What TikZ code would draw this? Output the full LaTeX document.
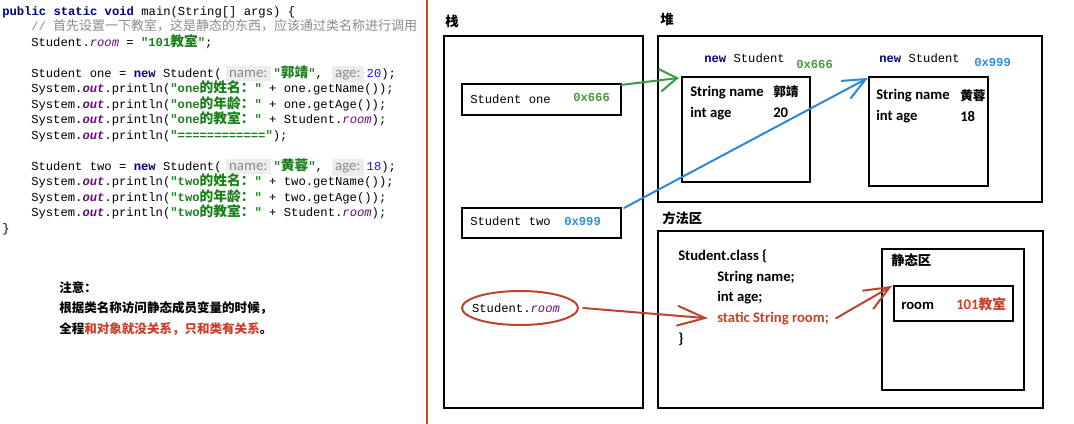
\documentclass[tikz,border=0pt]{standalone}
\usepackage{fontspec}
\setmainfont{Carlito}
\setmonofont{Liberation Mono}
\newfontfamily\cjk{Noto Sans CJK SC}
\usetikzlibrary{arrows.meta,fit,calc,shapes.geometric}
\definecolor{kwc}{HTML}{000080}
\definecolor{strc}{HTML}{1A801A}
\definecolor{numc}{HTML}{1A1AE6}
\definecolor{fldc}{HTML}{660E7A}
\definecolor{cmtc}{HTML}{8C8C8C}
\definecolor{hintfg}{HTML}{8A8A8A}
\definecolor{hintbg}{HTML}{EDEDED}
\definecolor{divred}{HTML}{C8442C}
\definecolor{arrgreen}{HTML}{3A9A48}
\definecolor{arrblue}{HTML}{2B88DA}
\definecolor{arrred}{HTML}{BF4430}
\definecolor{addrgreen}{HTML}{4A9A3A}
\definecolor{addrblue}{HTML}{2F8FE0}
\definecolor{notered}{HTML}{C8402A}
\newcommand\cj[1]{{\cjk\fontsize{10.3}{11}\selectfont #1}}
\newcommand\cjc[1]{{\cjk\fontsize{9.75}{11}\selectfont #1}}
\newcommand\jkw[1]{\textcolor{kwc}{\bfseries #1}}
\newcommand\jstr[1]{\textcolor{strc}{\bfseries #1}}
\newcommand\jnum[1]{\textcolor{numc}{#1}}
\newcommand\jout{\textcolor{fldc}{\bfseries\itshape out}}
\newcommand\jroom{\textcolor{fldc}{\itshape room}}
\newcommand\jhint[1]{{\setlength\fboxsep{2.6pt}\colorbox{hintbg}{\rmfamily\fontsize{11.2}{11}\selectfont\textcolor{hintfg}{#1}}}}
\begin{document}
\begin{tikzpicture}[x=0.75pt,y=-0.75pt,
  code/.style={anchor=mid west,inner sep=0,font=\ttfamily\fontsize{9.15}{11}\selectfont},
  note/.style={anchor=mid west,inner sep=0,font=\cjk\bfseries\fontsize{9.4}{11}\selectfont},
  box/.style={draw,line width=1.6pt,inner sep=0},
  lbl/.style={anchor=mid west,inner sep=0,font=\cjk\bfseries\fontsize{10}{11}\selectfont},
  txt/.style={anchor=mid west,inner sep=0,font=\bfseries\fontsize{11}{12}\selectfont},
  mono/.style={anchor=mid west,inner sep=0,font=\ttfamily\fontsize{9.15}{11}\selectfont},
  conn/.style={line width=1.5pt,line cap=round,line join=round}]
\fill[white] (0,0) rectangle (1074,424);
\useasboundingbox (0,0) rectangle (1074,424);

% ---- code ----
\node[code] (c1) at (2,12) {\jkw{public static void} main(String[] args) \{};
\node[code] (c2) at (31,27.5) {\textcolor{cmtc}{// \cjc{首先设置一下教室，这是静态的东西，应该通过类名称进行调用}}};
\node[code] (c3) at (31,43) {Student.\jroom{} = \jstr{"101\cj{教室}"};};
\node[code] (c4) at (31,74) {Student one = \jkw{new} Student(\hspace{3pt}\jhint{name:}\hspace{2pt}\jstr{"\cj{郭靖}"}, \hspace{1pt}\jhint{age:}\hspace{2pt}\jnum{20});};
\node[code] (c5) at (31,89.5) {System.\jout.println(\jstr{"one\cj{的姓名：}"} + one.getName());};
\node[code] (c6) at (31,105) {System.\jout.println(\jstr{"one\cj{的年龄：}"} + one.getAge());};
\node[code] (c7) at (31,120.5) {System.\jout.println(\jstr{"one\cj{的教室：}"} + Student.\jroom);};
\node[code] (c8) at (31,136) {System.\jout.println(\jstr{"============"});};
\node[code] (c9) at (31,167) {Student two = \jkw{new} Student(\hspace{3pt}\jhint{name:}\hspace{2pt}\jstr{"\cj{黄蓉}"}, \hspace{1pt}\jhint{age:}\hspace{2pt}\jnum{18});};
\node[code] (c10) at (31,182.5) {System.\jout.println(\jstr{"two\cj{的姓名：}"} + two.getName());};
\node[code] (c11) at (31,198) {System.\jout.println(\jstr{"two\cj{的年龄：}"} + two.getAge());};
\node[code] (c12) at (31,213.5) {System.\jout.println(\jstr{"two\cj{的教室：}"} + Student.\jroom);};
\node[code] (c13) at (2,229) {\}};

% ---- notes ----
\node[note] (n1) at (59,289) {注意：};
\node[note] (n2) at (59,309) {根据类名称访问静态成员变量的时候，};
\node[note] (n3) at (59,330) {全程\textcolor{notered}{和对象就没关系，只和类有关系}。};

% ---- divider ----
\draw[divred,line width=1.8pt] (427,0) -- (427,424);

% ---- stack ----
\node[lbl] (lstack) at (445,23) {栈};
\node[box,fit={(444,36) (643,408)}] (stack) {};
\node[box,fit={(462,84) (621,115)}] (one) {};
\node[mono] (onet) at (470,100) {Student one};
\node[mono,font=\ttfamily\bfseries\fontsize{9.15}{11}\selectfont,text=addrgreen] (onea) at (573,98) {0x666};
\node[box,fit={(462,208) (621,238)}] (two) {};
\node[mono] (twot) at (470,222) {Student two};
\node[mono,font=\ttfamily\bfseries\fontsize{9.15}{11}\selectfont,text=addrblue] (twoa) at (564,222) {0x999};
\node[draw=arrred,line width=1.5pt,ellipse,minimum width=87pt,minimum height=25.5pt,inner sep=0,
      font=\ttfamily\fontsize{9.15}{11}\selectfont] (ell) at (520,308) {\hspace{-6pt}Student.\jroom};

% ---- heap ----
\node[lbl] (lheap) at (660,21) {堆};
\node[box,fit={(658,36) (1042,202)}] (heap) {};
\node[mono] (new1) at (704,59) {\jkw{new} Student};
\node[mono,font=\ttfamily\bfseries\fontsize{9.15}{11}\selectfont,text=addrgreen] (addr1) at (796,65) {0x666};
\node[box,fit={(682,77) (810,182)}] (obj1) {};
\node[txt] (o1n) at (690,93) {String name};
\node[lbl,font=\cjk\bfseries\fontsize{9.5}{11}\selectfont] (o1nv) at (773,93) {郭靖};
\node[txt] (o1a) at (690,114) {int age};
\node[txt] (o1av) at (773,114) {20};
\node[mono] (new2) at (879,59) {\jkw{new} Student};
\node[mono,font=\ttfamily\bfseries\fontsize{9.15}{11}\selectfont,text=addrblue] (addr2) at (974,63) {0x999};
\node[box,fit={(869,77) (988,186)}] (obj2) {};
\node[txt] (o2n) at (876,96) {String name};
\node[lbl,font=\cjk\bfseries\fontsize{9.5}{11}\selectfont] (o2nv) at (960,97) {黄蓉};
\node[txt] (o2a) at (876,117) {int age};
\node[txt] (o2av) at (960,118) {18};

% ---- method area ----
\node[lbl] (lmeth) at (662,220) {方法区};
\node[box,fit={(658,231) (1043,408)}] (meth) {};
\node[txt] (cls) at (678,257) {Student.class \{};
\node[txt] (f1) at (717,278) {String name;};
\node[txt] (f2) at (717,298) {int age;};
\node[txt,text=notered] (sroom) at (717,319) {static String room;};
\node[txt] (clse) at (678,340) {\}};
\node[box,fit={(882,249) (1024,390)}] (stat) {};
\node[lbl] (lstat) at (891,262) {静态区};
\node[box,fit={(894,286) (1013,321)}] (roombox) {};
\node[txt] (rk) at (901,306) {room};
\node[txt,text=notered] (rv) at (956,306) {101{\cjk\fontsize{10.3}{11}\selectfont 教室}};

% ---- arrows ----
\draw[conn,arrgreen,-{Straight Barb[length=13pt,width=17pt]}] ($(one.north east)+(-1,2)$) -- ($(obj1.north west)+(-2,2)$);
\draw[conn,arrblue,-{Straight Barb[length=17pt,width=15pt]}] ($(two.north east)+(2,1)$) -- ($(obj2.north west)+(0,2)$);
\draw[conn,arrred,-{Straight Barb[length=21pt,width=15pt]}] ($(ell.east)+(4,0)$) -- ($(sroom.west)+(-9,0)$);
\draw[conn,arrred,-{Straight Barb[length=19pt,width=16pt]}] ($(sroom.east)+(7,0)$) -- ($(roombox.north west)+(-1,1)$);
\end{tikzpicture}
\end{document}
